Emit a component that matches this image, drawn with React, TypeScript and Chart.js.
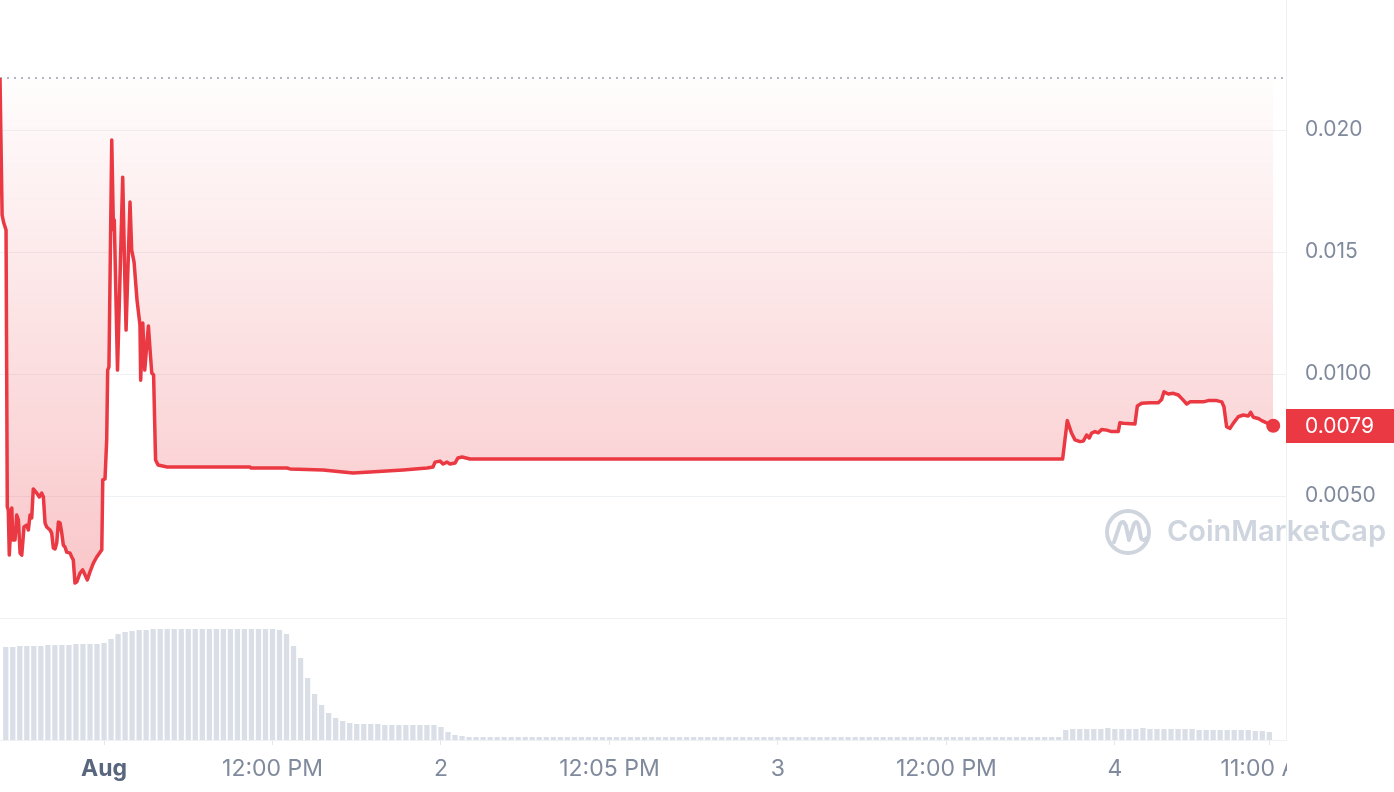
import React, { useEffect, useRef } from "react";
import { Chart, registerables } from "chart.js";

Chart.register(...registerables);

// Time in hours since Aug 1, 00:00
const priceHours = [
  -7.41, -7.26, -7.16, -6.98, -6.89, -6.82, -6.75, -6.57, -6.5, -6.34, -6.22, -6.1, -5.98, -5.86, -5.7, -5.51,
  -5.39, -5.27, -5.15, -5.04, -4.79, -4.61, -4.44, -4.32, -4.2, -4.08, -3.85, -3.73, -3.61, -3.49, -3.37, -3.25,
  -3.13, -3.01, -2.9, -2.78, -2.66, -2.42, -2.3, -2.19, -2.07, -1.94, -1.71, -1.52, -1.35, -1.19, -1.0, -0.76,
  -0.52, -0.28, -0.16, -0.09, 0.07, 0.19, 0.26, 0.35, 0.55, 0.67, 0.73, 0.96, 1.33, 1.5, 1.57, 1.85, 1.97, 2.14,
  2.35, 2.56, 2.61, 2.76, 2.9, 3.16, 3.28, 3.4, 3.53, 3.67, 3.85, 4.49, 10.4, 10.47, 13.03, 13.25, 15.6, 17.02,
  17.74, 18.95, 21.3, 23.01, 23.43, 23.58, 23.93, 24.15, 24.43, 24.64, 25.0, 25.21, 25.5, 26.07, 68.28, 68.61,
  68.92, 69.16, 69.52, 69.75, 69.99, 70.18, 70.35, 70.58, 70.82, 71.06, 71.42, 71.77, 72.24, 72.36, 72.6, 73.43,
  73.6, 73.91, 74.5, 75.09, 75.33, 75.5, 75.81, 76.16, 76.52, 76.87, 77.12, 77.35, 78.3, 78.65, 79.25, 79.61,
  79.77, 79.96, 80.2, 80.43, 80.79, 81.15, 81.5, 81.67, 81.86, 82.22, 82.46, 82.81, 83.28,
];

const priceValues = [
  0.02213, 0.01652, 0.01623, 0.0159, 0.00455, 0.00443, 0.00258, 0.00451, 0.0032, 0.0032, 0.00422, 0.00402,
  0.00266, 0.00258, 0.00373, 0.00381, 0.00361, 0.00422, 0.0041, 0.00529, 0.00512, 0.00496, 0.00512, 0.00496,
  0.00389, 0.00373, 0.00361, 0.00348, 0.00287, 0.00283, 0.00307, 0.00393, 0.00389, 0.00348, 0.00299, 0.00291,
  0.0027, 0.00266, 0.0025, 0.00238, 0.00143, 0.00148, 0.00184, 0.00197, 0.00176, 0.00156, 0.00189, 0.00225,
  0.0025, 0.0027, 0.00279, 0.00566, 0.0057, 0.0073, 0.01016, 0.01029, 0.01959, 0.0159, 0.01631, 0.01016,
  0.01807, 0.01344, 0.0118, 0.01705, 0.01508, 0.01459, 0.01303, 0.01201, 0.00975, 0.01209, 0.01016, 0.01197,
  0.01098, 0.01004, 0.00996, 0.00648, 0.00627, 0.00619, 0.00619, 0.00615, 0.00615, 0.00611, 0.00607, 0.00598,
  0.00594, 0.00598, 0.00607, 0.00615, 0.00619, 0.00639, 0.00643, 0.00631, 0.00639, 0.00631, 0.00635, 0.00656,
  0.0066, 0.00652, 0.00652, 0.00809, 0.00757, 0.0073, 0.00723, 0.00725, 0.0075, 0.00738, 0.00758, 0.00764,
  0.00759, 0.00773, 0.0077, 0.00764, 0.00764, 0.008, 0.00798, 0.00795, 0.00869, 0.0088, 0.00882, 0.00882,
  0.00896, 0.00927, 0.00918, 0.00921, 0.00914, 0.00893, 0.00877, 0.00886, 0.00886, 0.00891, 0.00891, 0.00886,
  0.00866, 0.00784, 0.00777, 0.00798, 0.00825, 0.00832, 0.00828, 0.00843, 0.00823, 0.00818, 0.00809, 0.008,
  0.00788,
];

// Volume bars, one every half hour starting at -7 h (relative units)
const volumeStartHour = -7;
const volumeStepHours = 0.5;
const volumeValues = [
  93, 93, 94, 94, 94, 94, 95, 95, 95, 95, 96, 96, 96, 96,
  97, 101, 106, 108, 109,
  110, 110, 111, 111, 111, 111, 111, 111, 111, 111, 111, 111, 111, 111, 111, 111, 111, 111, 111, 111,
  110, 106, 94, 82, 62, 46, 35, 27, 22, 19, 17,
  16, 16, 16, 16, 15, 15, 15, 15, 15, 15, 15, 15,
  13, 8, 5, 4,
  3, 3, 3, 3, 3, 3, 3, 3, 3, 3, 3, 3, 3, 3, 3, 3, 3,
  3, 3, 3, 3, 3, 3, 3, 3, 3, 3, 3, 3, 3, 3, 3, 3, 3,
  3, 3, 3, 3, 3, 3, 3, 3, 3, 3, 3, 3, 3, 3, 3, 3, 3,
  3, 3, 3, 3, 3, 3, 3, 3, 3, 3, 3, 3, 3, 3, 3, 3, 3,
  3, 3, 3, 3, 3, 3, 3, 3, 3, 3, 3, 3, 3, 3, 3, 3, 3,
  10,
  11, 11, 11, 11, 11, 12, 11, 11, 11, 11, 12, 11, 11, 11, 11, 11, 11, 11,
  10, 10, 10, 10, 10, 10, 10, 10, 9, 9, 8,
];

const xTickHours = [0, 12, 24, 36, 48, 60, 72, 83];
const xTickLabels = ["Aug", "12:00 PM", "2", "12:05 PM", "3", "12:00 PM", "4", "11:00 AM"];
const yTickValues = [0, 0.005, 0.01, 0.015, 0.02];
const yTickLabels = ["", "0.0050", "0.0100", "0.015", "0.020"];

const RED = "#ea3943";
const FONT = "Inter";

function zeroPad(s: any) {
  s.paddingLeft = 0;
  s.paddingRight = 0;
  s.paddingTop = 0;
  s.paddingBottom = 0;
}

export default function App() {
  const ref = useRef<HTMLCanvasElement>(null);

  useEffect(() => {
    const canvas = ref.current;
    if (!canvas) return;
    const firstPrice = priceValues[0];
    const lastPrice = priceValues[priceValues.length - 1];
    const n = Math.min(priceHours.length, priceValues.length);
    const points = priceHours.slice(0, n).map((h, i) => ({ x: h, y: priceValues[i] }));
    const volPoints = volumeValues.map((v, i) => ({ x: volumeStartHour + i * volumeStepHours, y: v }));

    const overlay = {
      id: "overlay",
      beforeDatasetsDraw(chart: any) {
        const { ctx, chartArea, scales } = chart;
        const r = chartArea.right;
        const y0 = scales.y.getPixelForValue(0);
        // watermark
        ctx.save();
        ctx.strokeStyle = "#cfd5de";
        ctx.lineWidth = 4;
        ctx.lineCap = "round";
        ctx.lineJoin = "round";
        const cx = r - 158;
        const cy = y0 - 86;
        ctx.beginPath();
        ctx.arc(cx, cy, 21, 0, Math.PI * 2);
        ctx.stroke();
        ctx.beginPath();
        ctx.moveTo(cx - 14, cy + 10);
        ctx.lineTo(cx - 8, cy - 8);
        ctx.quadraticCurveTo(cx - 5, cy - 13, cx - 2, cy - 6);
        ctx.lineTo(cx + 1, cy + 8);
        ctx.lineTo(cx + 6, cy - 8);
        ctx.quadraticCurveTo(cx + 9, cy - 13, cx + 11, cy - 5);
        ctx.lineTo(cx + 13, cy + 6);
        ctx.quadraticCurveTo(cx + 15, cy + 10, cx + 19, cy + 6);
        ctx.stroke();
        ctx.fillStyle = "#cfd5de";
        ctx.font = `600 29px ${FONT}`;
        ctx.textBaseline = "alphabetic";
        ctx.textAlign = "left";
        ctx.fillText("CoinMarketCap", cx + 39, cy + 9);
        // dotted open-price line
        const yb = scales.y.getPixelForValue(firstPrice);
        ctx.strokeStyle = "#98a1af";
        ctx.lineWidth = 1.6;
        ctx.lineCap = "butt";
        ctx.setLineDash([2, 5]);
        ctx.beginPath();
        ctx.moveTo(chartArea.left, yb);
        ctx.lineTo(r, yb);
        ctx.stroke();
        ctx.restore();
      },
      afterDraw(chart: any) {
        const { ctx, chartArea, scales, width, height } = chart;
        ctx.save();
        // clip x labels at chart right edge
        ctx.fillStyle = "#ffffff";
        ctx.fillRect(chartArea.right + 1, chartArea.bottom + 6, width - chartArea.right, height - chartArea.bottom);
        // current price tag
        const yp = scales.y.getPixelForValue(lastPrice);
        ctx.fillStyle = RED;
        ctx.fillRect(chartArea.right, Math.round(yp) - 17, width - chartArea.right, 34);
        ctx.fillStyle = "#ffffff";
        ctx.font = `21px ${FONT}`;
        ctx.textBaseline = "middle";
        ctx.textAlign = "left";
        ctx.fillText(lastPrice.toFixed(4), chartArea.right + 19, yp + 1);
        ctx.restore();
      },
    };

    const chart = new Chart(canvas, {
      type: "line",
      data: {
        datasets: [
          {
            type: "line",
            data: points,
            yAxisID: "y",
            borderColor: RED,
            borderWidth: 3.5,
            borderJoinStyle: "round",
            tension: 0,
            pointRadius: (c: any) => (c.dataIndex === n - 1 ? 7 : 0),
            pointHoverRadius: 0,
            pointBackgroundColor: RED,
            pointBorderWidth: 0,
            order: 0,
            fill: { target: { value: firstPrice } },
            backgroundColor: (c: any) => {
              const ch = c.chart;
              if (!ch.chartArea || !ch.scales || !ch.scales.y) return "rgba(234,57,67,0.12)";
              const ya = ch.scales.y.getPixelForValue(firstPrice);
              const yz = ch.scales.y.getPixelForValue(0);
              const g = ch.ctx.createLinearGradient(0, ya, 0, yz);
              g.addColorStop(0, "rgba(234,57,67,0.01)");
              g.addColorStop(1, "rgba(234,57,67,0.3)");
              return g;
            },
          } as any,
          {
            type: "bar",
            data: volPoints,
            yAxisID: "yv",
            backgroundColor: "#d9dee7",
            barPercentage: 0.75,
            categoryPercentage: 1,
            order: 1,
          } as any,
        ],
      },
      options: {
        responsive: false,
        animation: false,
        devicePixelRatio: 1,
        events: [],
        layout: { autoPadding: false, padding: { top: 0, left: 0, right: 0, bottom: 0 } },
        plugins: { legend: { display: false }, tooltip: { enabled: false } },
        scales: {
          x: {
            type: "linear",
            min: -7.41,
            max: 84.19,
            offset: false,
            grid: {
              display: true,
              offset: false,
              drawOnChartArea: false,
              drawTicks: true,
              tickLength: 5,
              tickColor: "#e3e7ec",
            },
            border: { display: true, color: "#eff2f5" },
            afterBuildTicks: (s: any) => {
              s.ticks = xTickHours.map((v) => ({ value: v }));
            },
            afterFit: (s: any) => {
              s.height = 52;
              zeroPad(s);
            },
            ticks: {
              autoSkip: false,
              maxRotation: 0,
              minRotation: 0,
              padding: 10,
              callback: (_v: any, i: number) => xTickLabels[i],
              color: (c: any) => (c.index === 0 ? "#58667e" : "#808a9d"),
              font: (c: any) => ({ family: FONT, size: 23, weight: c.index === 0 ? "bold" : "normal" }),
            },
          },
          y: {
            type: "linear",
            position: "right",
            min: -0.005,
            max: 0.02533,
            grid: { color: "#eff2f5", drawTicks: false, lineWidth: 1 },
            border: { display: true, color: "#eff2f5" },
            afterBuildTicks: (s: any) => {
              s.ticks = yTickValues.map((v) => ({ value: v }));
            },
            afterFit: (s: any) => {
              s.width = 108;
              zeroPad(s);
            },
            ticks: {
              padding: 19,
              color: "#808a9d",
              font: { family: FONT, size: 21 },
              callback: (_v: any, i: number) => yTickLabels[i],
            },
          },
          yv: { type: "linear", display: false, min: 0, max: 740 },
        },
      } as any,
      plugins: [overlay],
    });

    return () => chart.destroy();
  }, []);

  return (
    <div style={{ position: "fixed", left: 0, top: 0, width: 1394, height: 792, background: "#fff" }}>
      <canvas ref={ref} width={1394} height={792} style={{ width: 1394, height: 792, display: "block" }} />
    </div>
  );
}
